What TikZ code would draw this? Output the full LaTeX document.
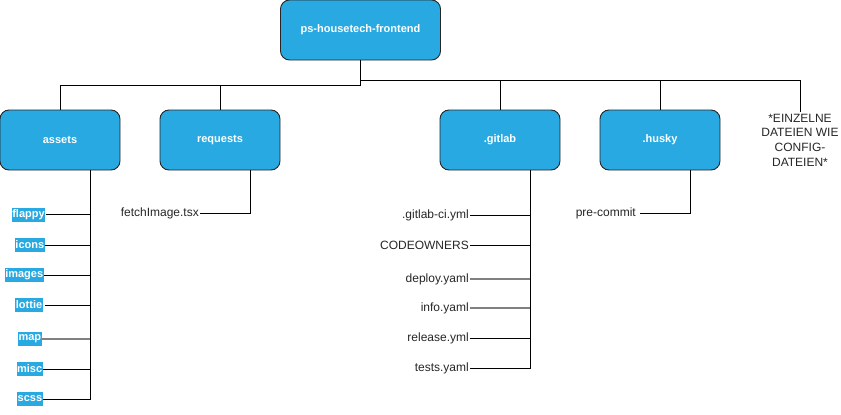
\documentclass[tikz,border=0pt]{standalone}
\usepackage{fontspec}
\setmainfont{Liberation Sans}
\definecolor{boxblue}{HTML}{29A9E1}
\begin{document}
\begin{tikzpicture}[x=1pt,y=-1pt,
  folder/.style={draw=black!85, fill=boxblue, rounded corners=9pt, minimum width=120pt, minimum height=60pt, text=white, font=\fontsize{11}{13}\selectfont\bfseries, line width=0.9pt},
  file/.style={font=\fontsize{12}{14}\selectfont, text=black!85, inner sep=1pt, anchor=east},
  asset/.style={fill=boxblue, text=white, font=\fontsize{11}{13}\selectfont\bfseries, inner sep=0.6pt, anchor=east, minimum height=14pt},
  link/.style={draw=black, line width=0.9pt},
  hl/.style={draw=black!50, line width=1.6pt}]
\useasboundingbox (0,0) rectangle (841,415);
% folders
\node[folder, minimum width=160pt] (root) at (360.5,30) {ps-housetech-frontend};
\node[folder] (assets) at (60,140) {assets};
\node[folder] (requests) at (220,140) {requests};
\node[folder] (gitlab) at (500,140) {.gitlab};
\node[folder] (husky) at (660,140) {.husky};
\node[font=\fontsize{12}{14.6}\selectfont, text=black!85, align=center, inner sep=2pt] (cfg) at (800,140) {*EINZELNE\\DATEIEN WIE\\CONFIG-\\DATEIEN*};
% root connectors
\draw[link] (root.south) -- ++(0,25) -| (assets.north);
\draw[link] (root.south) -- ++(0,25) -| (requests.north);
\draw[link] (root.south) -- ++(0,20) -| (gitlab.north);
\draw[link] (root.south) -- ++(0,20) -| (husky.north);
\draw[link] (root.south) -- ++(0,20) -| (cfg.north);
% anchors for branch lines
\coordinate (aa) at ([xshift=30pt]assets.south);
\coordinate (ra) at ([xshift=30pt]requests.south);
\coordinate (ga) at ([xshift=30pt]gitlab.south);
\coordinate (ha) at ([xshift=30pt]husky.south);
% assets children
\node[asset] (flappy) at (45.5,214.5) {flappy};
\node[asset] (icons) at (45,245) {icons};
\node[asset] (images) at (44,275) {images};
\node[asset] (lottie) at (43,305) {lottie};
\node[asset] (map) at (42,339) {map};
\node[asset] (misc) at (43,369) {misc};
\node[asset] (scss) at (43,399) {scss};
\draw[link] (aa) |- (scss.east);
\foreach \n in {flappy,icons,images,misc}
  \draw[link] (\n.east) -- (\n.east -| aa);
\draw[link] ([xshift=2pt]lottie.east) -- (lottie.east -| aa);
\draw[hl] (map.east) -- (map.east -| aa);
% requests child
\node[file] (fetch) at (200,213) {fetchImage.tsx};
\draw[link] (ra) |- (fetch.east);
% gitlab children
\node[file] (ci) at (470,215) {.gitlab-ci.yml};
\node[file] (codeowners) at (470,245) {CODEOWNERS};
\node[file] (deploy) at (470,279) {deploy.yaml};
\node[file] (info) at (470,308) {info.yaml};
\node[file] (release) at (470,338) {release.yml};
\node[file] (tests) at (470,368) {tests.yaml};
\draw[link] (ga) |- (tests.east);
\foreach \n in {ci,codeowners,release}
  \draw[link] (\n.east) -- (\n.east -| ga);
\draw[hl] (deploy.east) -- (deploy.east -| ga);
\draw[hl] (info.east) -- (info.east -| ga);
% husky child
\node[file] (precommit) at (637,213) {pre-commit};
\draw[link] (ha) |- ([xshift=3pt]precommit.east);
\end{tikzpicture}
\end{document}
